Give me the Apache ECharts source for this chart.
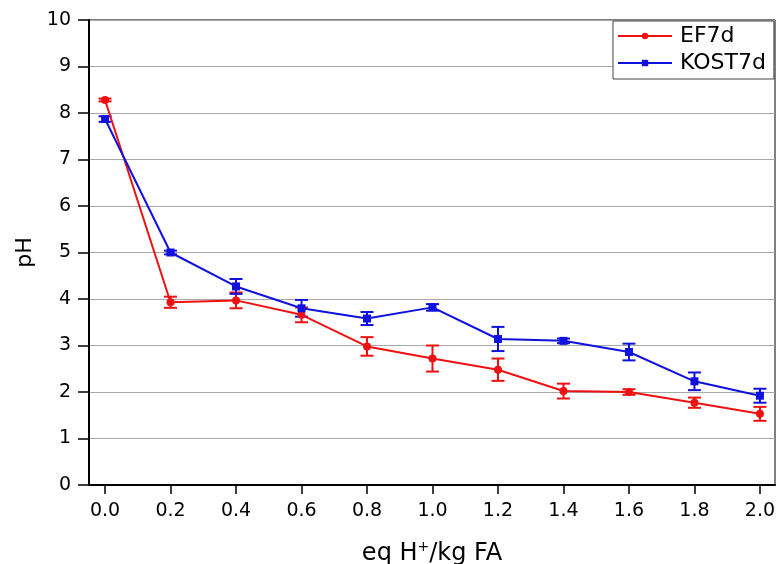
<!DOCTYPE html>
<html>
<head>
<meta charset="utf-8">
<script src="https://cdn.jsdelivr.net/npm/echarts@6/dist/echarts.min.js"></script>
<style>
  html, body { margin: 0; padding: 0; background: #fff; }
  #chart { width: 776px; height: 564px; }
</style>
</head>
<body>
<div id="chart"></div>
<script>
// Acid dose (eq H+/kg FA) and resulting pH after 7 days
const doses = [0.0, 0.2, 0.4, 0.6, 0.8, 1.0, 1.2, 1.4, 1.6, 1.8, 2.0];
const xTickLabels = ['0.0', '0.2', '0.4', '0.6', '0.8', '1.0', '1.2', '1.4', '1.6', '1.8', '2.0'];

const ef7dMean = [8.28, 3.93, 3.97, 3.66, 2.98, 2.72, 2.48, 2.02, 2.00, 1.77, 1.53];
const ef7dErr  = [0.03, 0.12, 0.17, 0.16, 0.20, 0.28, 0.24, 0.16, 0.06, 0.11, 0.15];

const kost7dMean = [7.87, 5.00, 4.27, 3.80, 3.58, 3.82, 3.14, 3.10, 2.86, 2.23, 1.92];
const kost7dErr  = [0.06, 0.04, 0.16, 0.18, 0.14, 0.07, 0.26, 0.05, 0.18, 0.19, 0.15];

const RED = '#ee1111';
const BLUE = '#1111dd';
const FONT = '"DejaVu Sans", "Liberation Sans", Arial, sans-serif';

function pairs(xs, ys) {
  return xs.map((x, i) => [x, ys[i]]);
}
function errRows(xs, ys, es) {
  return xs.map((x, i) => [x, ys[i] - es[i], ys[i] + es[i]]);
}

// Vertical whisker with horizontal caps
function errorBarRenderer(color) {
  return function (params, api) {
    const x = api.value(0);
    const lo = api.coord([x, api.value(1)]);
    const hi = api.coord([x, api.value(2)]);
    const half = 6.5;
    const style = { stroke: color, lineWidth: 2, fill: null };
    return {
      type: 'group',
      children: [
        { type: 'line', shape: { x1: lo[0], y1: lo[1], x2: hi[0], y2: hi[1] }, style: style },
        { type: 'line', shape: { x1: lo[0] - half, y1: lo[1], x2: lo[0] + half, y2: lo[1] }, style: style },
        { type: 'line', shape: { x1: hi[0] - half, y1: hi[1], x2: hi[0] + half, y2: hi[1] }, style: style }
      ]
    };
  };
}

const chart = echarts.init(document.getElementById('chart'), null, { renderer: 'canvas' });

chart.setOption({
  animation: false,
  backgroundColor: '#fff',
  textStyle: { fontFamily: FONT },
  grid: {
    left: 89, right: 1, top: 20, bottom: 79,
    outerBoundsMode: 'none',
    containLabel: false,
    show: true, borderColor: '#000', borderWidth: 1, backgroundColor: 'transparent'
  },
  legend: {
    orient: 'vertical',
    left: 613, top: 21,
    padding: [4, 8, 5, 4],
    itemGap: 5,
    itemWidth: 54, itemHeight: 8,
    backgroundColor: '#fff',
    borderColor: '#444', borderWidth: 1,
    textStyle: { fontFamily: FONT, fontSize: 22, color: '#000', padding: [0, 0, 0, 3] },
    data: ['EF7d', 'KOST7d']
  },
  xAxis: {
    type: 'value',
    min: -0.049, max: 2.046,
    name: '{a|eq H}{s|+}{a|/kg FA}',
    nameLocation: 'middle',
    nameGap: 55,
    nameTextStyle: {
      rich: {
        a: { fontFamily: FONT, fontSize: 24, color: '#000', lineHeight: 28 },
        s: { fontFamily: FONT, fontSize: 14, color: '#000', verticalAlign: 'top', lineHeight: 28, padding: [0, 0, 10, 0] }
      }
    },
    axisLine: { show: true, onZero: false, lineStyle: { color: '#000', width: 2 } },
    axisTick: { show: true, inside: false, length: 9, lineStyle: { color: '#000', width: 1.5 }, customValues: doses },
    axisLabel: {
      customValues: doses,
      formatter: (v) => xTickLabels[doses.indexOf(v)] ?? '',
      margin: 17, fontSize: 19, color: '#000', fontFamily: FONT
    },
    splitLine: { show: false }
  },
  yAxis: {
    type: 'value',
    min: 0, max: 10, interval: 1,
    name: 'pH',
    nameLocation: 'middle',
    nameGap: 47,
    nameTextStyle: { fontFamily: FONT, fontSize: 22, color: '#000' },
    axisLine: { show: true, onZero: false, lineStyle: { color: '#000', width: 2 } },
    axisTick: { show: true, inside: false, length: 11, lineStyle: { color: '#000', width: 1.5 } },
    axisLabel: { margin: 18, fontSize: 19, color: '#000', fontFamily: FONT },
    splitLine: { show: true, lineStyle: { color: '#a8a8a8', width: 1 } }
  },
  series: [
    {
      name: 'EF7d-err', type: 'custom',
      renderItem: errorBarRenderer(RED),
      encode: { x: 0, y: [1, 2] },
      data: errRows(doses, ef7dMean, ef7dErr),
      z: 3
    },
    {
      name: 'KOST7d-err', type: 'custom',
      renderItem: errorBarRenderer(BLUE),
      encode: { x: 0, y: [1, 2] },
      data: errRows(doses, kost7dMean, kost7dErr),
      z: 3
    },
    {
      name: 'EF7d', type: 'line',
      data: pairs(doses, ef7dMean),
      symbol: 'circle', symbolSize: 8,
      itemStyle: { color: RED },
      lineStyle: { color: RED, width: 2 },
      z: 4
    },
    {
      name: 'KOST7d', type: 'line',
      data: pairs(doses, kost7dMean),
      symbol: 'rect', symbolSize: 8,
      itemStyle: { color: BLUE },
      lineStyle: { color: BLUE, width: 2 },
      z: 4
    }
  ]
});
</script>
</body>
</html>
